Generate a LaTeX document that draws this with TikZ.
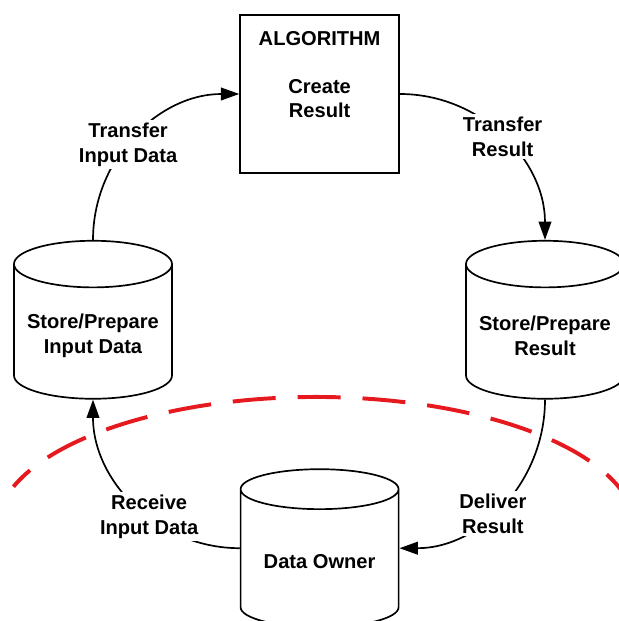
\documentclass[tikz,border=0pt]{standalone}
\usepackage{fontspec}
\setmainfont{Liberation Sans}
\usetikzlibrary{shapes.geometric,arrows.meta,positioning}
\definecolor{bred}{RGB}{230,25,30}

\begin{document}
\begin{tikzpicture}[>={Triangle[length=13pt,width=9pt]}, font=\fontsize{14.3}{17.3}\selectfont\bfseries,
  store/.style={draw, line width=1.2pt, cylinder, shape border rotate=90, aspect=0.33, minimum width=3.95cm, minimum height=3.95cm, align=center, fill=white},
  link/.style={->, line width=1.2pt},
  lbl/.style={fill=white, align=center, inner sep=2pt},
  boundary/.style={draw=bred, line width=2.8pt, dash pattern=on 30.6pt off 15.6pt, dash phase=14pt}]
  \useasboundingbox (0,0) rectangle (15.475,15.525);
  \clip (0,0) rectangle (15.475,15.525);

  % red boundary
  \coordinate (bc) at (7.9,2.275);
  \draw[boundary] ([shift={(161:8cm and 3.325cm)}]bc) arc[start angle=161, end angle=10, x radius=8cm, y radius=3.325cm];

  \node[draw, line width=1.2pt, minimum width=3.975cm, minimum height=3.95cm] (alg) at (7.99,13.175) {};
  \node[align=center, inner sep=0pt, below=0.42cm of alg.north] (algtxt) {ALGORITHM\\[17pt]Create\\Result};

  \node[store] (sin) at (2.325,7.13) {Store/Prepare\\Input Data};
  \node[store] (sres) at (13.625,7.13) {Store/Prepare\\Result};
  \node[store] (own) at (7.99,1.475) {Data Owner};

  \draw[link] (sin.north) to[out=90,in=180] node[lbl, pos=0.45] (tin) {Transfer\\Input Data} (alg.west);
  \draw[link] (alg.east) to[out=0,in=90] node[lbl, pos=0.5] (tres) {Transfer\\Result} (sres.north);
  \draw[link] (sres.south) to[out=-90,in=0] node[lbl, pos=0.56] (dres) {Deliver\\Result} (own.shape center -| own.east);
  \draw[link] (own.shape center -| own.west) to[out=180,in=-90] node[lbl, pos=0.42] (rin) {Receive\\Input Data} (sin.south);
\end{tikzpicture}
\end{document}
